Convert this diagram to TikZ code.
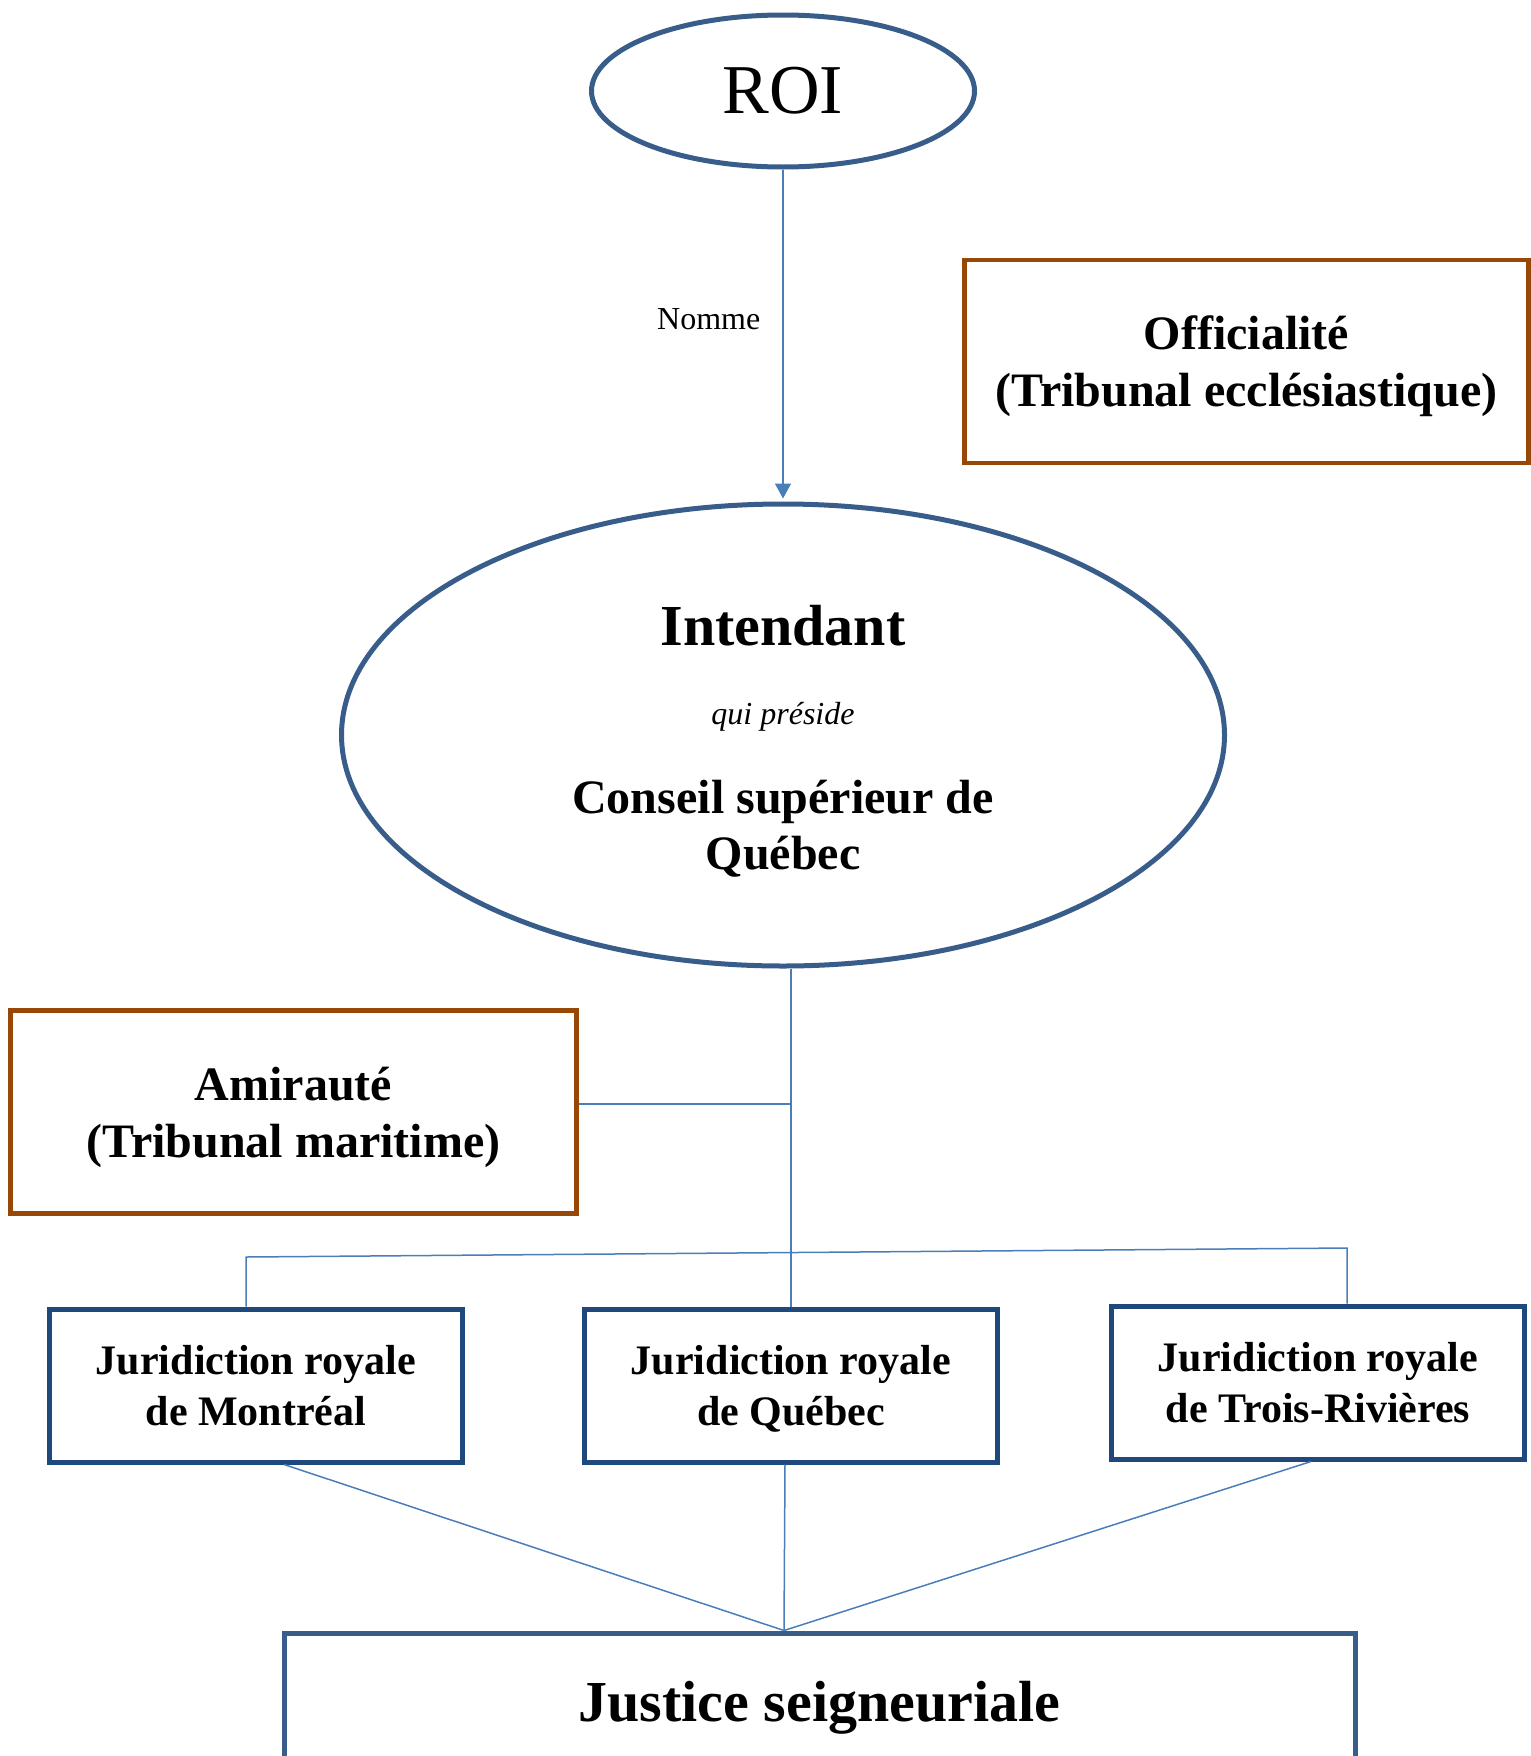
\documentclass[tikz,border=0pt]{standalone}
\usepackage{fontspec}
\setmainfont{Liberation Serif}
\usetikzlibrary{positioning,calc,shapes,arrows.meta}
\definecolor{ovalblue}{RGB}{56,93,138}
\definecolor{boxblue}{RGB}{31,73,125}
\definecolor{linkblue}{RGB}{74,126,187}
\definecolor{courtbrown}{RGB}{152,72,6}
\tikzstyle{oval}=[draw=ovalblue,line width=5pt,ellipse]
\tikzstyle{court}=[draw=courtbrown,line width=4.5pt,minimum width=564pt,minimum height=203pt,align=center,text depth=0pt,font=\fontsize{48}{57}\selectfont\bfseries]
\tikzstyle{juri}=[draw=boxblue,line width=5pt,minimum width=413pt,minimum height=153pt,align=center,text depth=-9pt,font=\fontsize{42}{51}\selectfont\bfseries]
\tikzstyle{seig}=[draw=ovalblue,line width=5pt,minimum width=1071pt,minimum height=136pt,text depth=0pt,font=\fontsize{58}{66}\selectfont\bfseries]
\tikzstyle{lbl}=[inner sep=0pt,font=\fontsize{32}{38}\selectfont]
\tikzstyle{link}=[draw=linkblue,line width=1.5pt]
\tikzstyle{arr}=[link,-{Triangle[width=16pt,length=15pt]}]

\begin{document}
\begin{tikzpicture}[x=1pt,y=-1pt]
  \useasboundingbox (0,0) rectangle (1531,1756);

  \node (ROI) [oval,minimum width=383pt,minimum height=152pt,font=\fontsize{70}{84}\selectfont] at (783,91) {ROI};
  \node (INT) [oval,minimum width=883pt,minimum height=462pt,below=332pt of ROI] {};
  \node (INT1) [anchor=base,inner sep=0pt,font=\fontsize{58}{66}\selectfont\bfseries] at ([yshift=90pt]INT.center) {Intendant};
  \node (INT2) [anchor=base,lbl,font=\fontsize{32}{38}\selectfont\itshape] at ([yshift=11pt]INT.center) {qui préside};
  \node (INT3) [inner sep=0pt,align=center,font=\fontsize{48}{56}\selectfont\bfseries] at ([yshift=-94pt]INT.center) {Conseil supérieur de\\Québec};

  \node (OFF) [court] at (1246.5,361.5) {Officialité\\(Tribunal ecclésiastique)};
  \node (AMI) [court,minimum width=566pt] at (293.5,1112) {Amirauté\\(Tribunal maritime)};

  \node (JQ) [juri,below=338pt of INT,xshift=8pt] {Juridiction royale\\de Québec};
  \node (JM) [juri,left=117pt of JQ] {Juridiction royale\\de Montréal};
  \node (JT) [juri,right=109pt of JQ,yshift=3pt] {Juridiction royale\\de Trois-Rivières};
  \node (JS) [seig,below=166pt of JQ,xshift=28.5pt] {Justice seigneuriale};

  % ROI -> Intendant
  \draw[arr,shorten >=3pt] (ROI) -- node[pos=0.45,left=22pt,lbl] (NOM) {Nomme} (INT);

  % Intendant -> juridictions
  \draw[link] (INT.south -| JQ.north) -- (JQ.north);
  \coordinate (AMIj) at ([yshift=8pt]AMI.east);
  \draw[link] (AMIj) -- (AMIj -| JQ.north);
  \coordinate (busL) at (246,1257);
  \coordinate (busR) at (1347,1248);
  \draw[link] (JM.north -| busL) -- (busL) -- (busR) -- (busR |- JT.north);

  % juridictions -> justice seigneuriale
  \coordinate (apex) at ([xshift=-35.5pt]JS.north);
  \draw[link] ([xshift=28pt]JM.south) -- (apex);
  \draw[link] ([xshift=-6pt]JQ.south) -- (apex);
  \draw[link] ([xshift=-7pt]JT.south) -- (apex);
\end{tikzpicture}
\end{document}
